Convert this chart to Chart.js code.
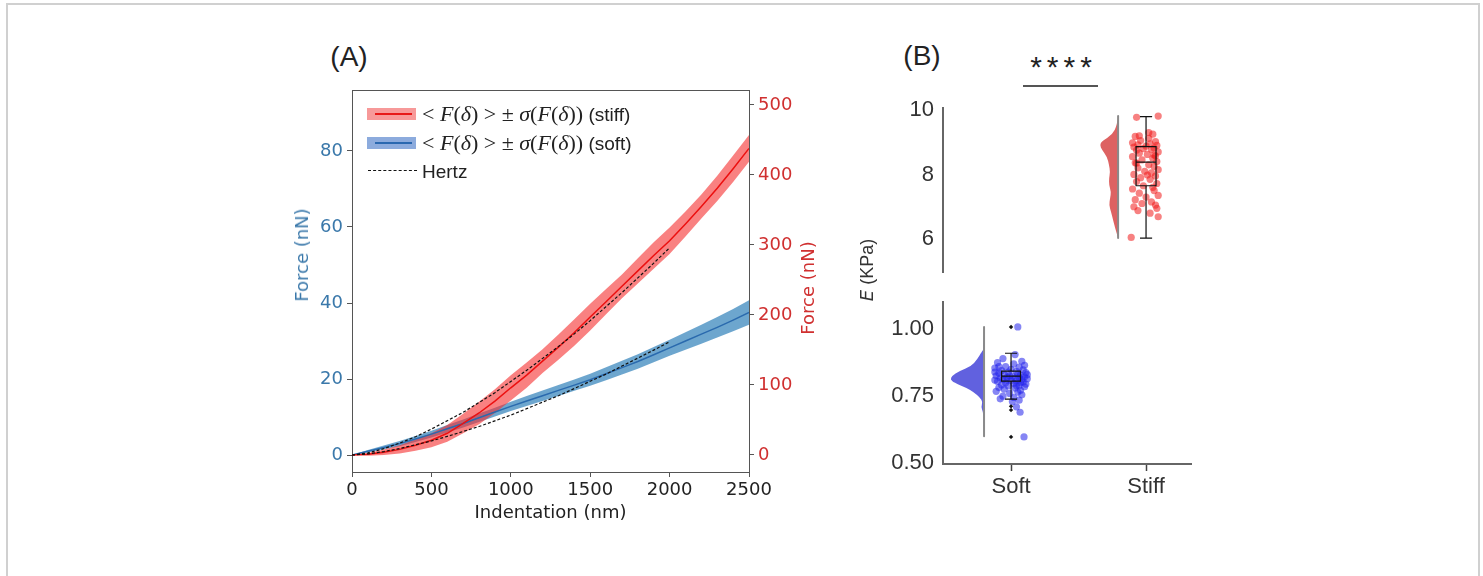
<!DOCTYPE html>
<html><head><meta charset="utf-8">
<script src="https://cdn.jsdelivr.net/npm/chart.js@4.4.0/dist/chart.umd.min.js"></script>
<style>
html,body{margin:0;padding:0;background:#fff;}
#page{position:relative;width:1483px;height:576px;overflow:hidden;font-family:"Liberation Sans",Arial,sans-serif;}
#frame{position:absolute;left:6px;top:3px;width:1474px;height:640px;border:2px solid #d0d0d0;box-sizing:border-box;}
canvas{position:absolute;}
.lbl{position:absolute;line-height:1;white-space:nowrap;color:#222;}
.c{transform:translate(-50%,-50%);}
.r{transform:translate(-50%,-50%) rotate(-90deg);}
.m{font-family:"Liberation Serif","Times New Roman",serif;}
.dv{font-family:"DejaVu Sans",sans-serif;font-size:18px;}
.patch{position:absolute;}
</style></head>
<body><div id="page">
<div id="frame"></div>
<canvas id="cA" width="560" height="450" style="left:270px;top:80px;"></canvas>
<canvas id="cB1" width="320" height="190" style="left:880px;top:95px;"></canvas>
<canvas id="cB2" width="320" height="230" style="left:880px;top:290px;"></canvas>

<div class="lbl c" style="left:349px;top:57px;font-size:28px;">(A)</div>
<div class="lbl c" style="left:922px;top:56px;font-size:28px;">(B)</div>

<!-- axis titles panel A -->
<div class="lbl r dv" style="left:302px;top:255px;color:#3a78aa;">Force (nN)</div>
<div class="lbl r dv" style="left:808px;top:288px;color:#d03030;">Force (nN)</div>

<!-- legend panel A -->
<div class="patch" style="left:367px;top:108px;width:49px;height:12px;background:rgba(240,70,70,0.55);"></div>
<div class="patch" style="left:375px;top:113px;width:37px;height:2px;background:#e81818;"></div>
<div class="lbl" style="left:422px;top:114px;transform:translateY(-50%);font-size:19px;"><span class="m" style="font-size:22px;">&lt; <i>F</i>(<i>δ</i>) &gt; ± <i>σ</i>(<i>F</i>(<i>δ</i>))</span> (stiff)</div>
<div class="patch" style="left:367px;top:137px;width:49px;height:12px;background:rgba(70,120,200,0.62);"></div>
<div class="patch" style="left:375px;top:142px;width:37px;height:2px;background:#2a68b0;"></div>
<div class="lbl" style="left:422px;top:143px;transform:translateY(-50%);font-size:19px;"><span class="m" style="font-size:22px;">&lt; <i>F</i>(<i>δ</i>) &gt; ± <i>σ</i>(<i>F</i>(<i>δ</i>))</span> (soft)</div>
<div class="patch" style="left:368px;top:170px;width:49px;height:0;border-top:1.5px dashed #111;"></div>
<div class="lbl" style="left:422px;top:171px;transform:translateY(-50%);font-size:19px;">Hertz</div>

<!-- panel B annotations -->
<div class="lbl c" style="left:1061px;top:67px;font-size:30px;letter-spacing:5px;padding-left:5px;color:#222;">****</div>
<div class="patch" style="left:1023px;top:85px;width:75px;height:2px;background:#555;"></div>
<div class="lbl r" style="left:867px;top:270px;font-size:18px;color:#333;"><i style="font-family:'DejaVu Sans';font-size:18px;">E</i> (KPa)</div>
</div>

<script>
// ---------- Panel A data ----------
const indentation = [0,100,200,300,400,500,600,700,800,900,1000,1100,1200,1300,1400,1500,1600,1700,1800,1900,2000,2100,2200,2300,2400,2500];
const stiffMean = [0,1,4,8,14,21,31,45,60,77,96,114,134,154,175,197,219,241,263,285,306,330,355,381,409,438];
const stiffSD   = [0,2,4,6,8,10,12,14,16,17,18,18,17,18,19,19,18,17,18,19,19,18,17,18,19,19];
const softMean  = [0,1.0,2.0,3.0,4.2,5.5,6.9,8.3,9.8,11.3,12.8,14.2,15.6,17.0,18.4,19.8,21.4,23.0,24.6,26.4,28.2,30.0,31.8,33.6,35.5,37.5];
const softSD    = [0,0.3,0.5,0.7,0.8,0.9,1.0,1.05,1.1,1.15,1.2,1.3,1.4,1.45,1.5,1.6,1.7,1.8,1.9,2.0,2.1,2.3,2.5,2.7,2.9,3.2];
const hertzX     = [0,100,200,300,400,500,600,700,800,900,1000,1100,1200,1300,1400,1500,1600,1700,1800,1900,2000];
const hertzStiff = [0,3,9,17,26,37,49,61,75,89,105,121,138,155,173,192,212,232,253,274,296];
const hertzSoft  = [0,0.3,0.9,1.7,2.7,3.7,4.9,6.2,7.5,9.0,10.5,12.2,13.9,15.6,17.5,19.4,21.3,23.4,25.5,27.6,29.8];
const xTicks = [0,500,1000,1500,2000,2500];
const softTicks = [0,20,40,60,80];
const stiffTicks = [0,100,200,300,400,500];

// ---------- Panel B data ----------
const groups = ['Soft','Stiff'];
const stiffE = [9.77,9.81,6.05,6.69,9.25,9.18,9.12,9.05,9.02,8.98,8.95,8.92,8.9,8.88,8.85,8.82,8.8,8.78,8.75,8.7,8.66,8.62,8.58,8.55,8.5,8.45,8.4,8.36,8.3,8.25,8.2,8.15,8.1,8.05,8.0,7.95,7.9,7.85,7.78,7.72,7.65,7.6,7.55,7.5,7.42,7.35,7.3,7.22,7.15,7.1,7.05,7.0,6.95,6.88,6.8,9.3,9.2,8.6,8.35,7.98];
const stiffJitter = [-0.07,0.09,-0.11,0.09,0.05,-0.08,0.02,-0.04,0.07,-0.1,0.03,-0.06,0.08,0.0,-0.09,0.06,-0.02,0.04,-0.07,0.09,-0.05,0.01,0.07,-0.1,0.05,-0.03,0.08,-0.08,0.02,0.06,-0.06,0.09,-0.01,0.04,-0.09,0.07,-0.04,0.03,-0.07,0.08,-0.02,0.05,-0.1,0.06,-0.05,0.09,0.0,-0.08,0.04,-0.03,0.07,-0.09,0.08,-0.06,0.03,0.02,-0.05,0.06,-0.07,0.01];
const softE = [1.008,0.69,0.598,0.71,0.905,0.89,0.88,0.875,0.87,0.865,0.86,0.858,0.855,0.85,0.848,0.845,0.842,0.84,0.838,0.835,0.832,0.83,0.828,0.826,0.824,0.822,0.82,0.82,0.818,0.816,0.815,0.813,0.812,0.81,0.808,0.806,0.805,0.803,0.8,0.798,0.795,0.792,0.79,0.788,0.785,0.782,0.78,0.776,0.772,0.768,0.765,0.76,0.755,0.75,0.745,0.74,0.735,0.73,0.84,0.83,0.81,0.8,0.86,0.79,0.825];
const softJitter = [0.05,0.067,0.096,0.04,0.03,-0.06,0.08,-0.1,0.02,0.1,-0.04,0.06,-0.12,0.0,0.09,-0.07,0.04,-0.02,0.11,-0.09,0.05,-0.05,0.07,-0.11,0.01,0.1,-0.03,0.06,-0.08,0.03,0.12,-0.06,0.08,-0.12,0.0,0.04,-0.1,0.09,-0.04,0.02,0.11,-0.07,0.06,-0.02,0.1,-0.09,0.03,-0.05,0.07,-0.11,0.05,-0.01,0.08,-0.06,0.02,-0.08,0.06,0.01,-0.12,0.12,-0.03,0.07,-0.09,0.04,-0.01];
const softOutliers = [1.008,0.712,0.698,0.598];
// box stats: [lower whisker, q1, median, q3, upper whisker]
const softBox  = [0.739,0.806,0.825,0.843,0.91];
const stiffBox = [6.03,7.65,8.38,8.86,9.79];
// half violin (kde): E levels and half-widths in group units
const stiffViolinE = [9.81,9.53,9.22,9.04,8.91,8.76,8.54,8.29,8.08,7.89,7.67,7.46,7.27,7.05,6.84,6.59,6.34,6.03];
const stiffViolinW = [0,0.007,0.044,0.119,0.136,0.119,0.081,0.067,0.059,0.067,0.067,0.052,0.059,0.067,0.052,0.037,0.022,0];
const softViolinE = [1.008,0.923,0.917,0.886,0.861,0.843,0.825,0.8125,0.80,0.782,0.764,0.745,0.728,0.71,0.691,0.665,0.6];
const softViolinW = [0,0.004,0.015,0.052,0.096,0.185,0.237,0.25,0.222,0.133,0.074,0.03,0.01,0.022,0.007,0.004,0];
const bTopTicks = [6,8,10];
const bBotTicks = [0.5,0.75,1.0];

// ---------- helpers ----------
const pts = (xs, ys) => xs.map((x,i)=>({x:x, y:ys[i]}));
const addArr = (a,b,s) => a.map((v,i)=>v + s*b[i]);
const fixTicks = arr => (s => { s.ticks = arr.map(v=>({value:v})); });
const fitW = w => (s => { s.width = w; s.paddingTop = 0; s.paddingBottom = 0; s.paddingLeft = 0; s.paddingRight = 0; });
const fitH = h => (s => { s.height = h; s.paddingTop = 0; s.paddingBottom = 0; s.paddingLeft = 0; s.paddingRight = 0; });

const topSpine = {id:'topSpine', afterDraw(chart){
  const {ctx, chartArea:a} = chart;
  ctx.save(); ctx.strokeStyle='#555'; ctx.lineWidth=1;
  ctx.beginPath(); ctx.moveTo(a.left, a.top+0.5); ctx.lineTo(a.right, a.top+0.5); ctx.stroke();
  ctx.restore();
}};

const RED='#ec1010', BLUE='#2a6aae';
const tickFontA = {family:'DejaVu Sans', size:18};

new Chart(document.getElementById('cA'), {
  type:'line',
  data:{datasets:[
    {data:pts(hertzX,hertzStiff), yAxisID:'yR', borderColor:'#111', borderWidth:1.2, borderDash:[3,2], pointRadius:0, fill:false},
    {data:pts(hertzX,hertzSoft), yAxisID:'yL', borderColor:'#111', borderWidth:1.2, borderDash:[3,2], pointRadius:0, fill:false},
    {data:pts(indentation,stiffMean), yAxisID:'yR', borderColor:RED, borderWidth:1.5, pointRadius:0, fill:false},
    {data:pts(indentation,softMean), yAxisID:'yL', borderColor:BLUE, borderWidth:1.5, pointRadius:0, fill:false},
    {data:pts(indentation,addArr(stiffMean,stiffSD,1)), yAxisID:'yR', borderWidth:0, pointRadius:0, backgroundColor:'rgba(245,45,45,0.6)', fill:'+1'},
    {data:pts(indentation,addArr(stiffMean,stiffSD,-1)), yAxisID:'yR', borderWidth:0, pointRadius:0, fill:false},
    {data:pts(indentation,addArr(softMean,softSD,1)), yAxisID:'yL', borderWidth:0, pointRadius:0, backgroundColor:'rgba(31,119,180,0.65)', fill:'+1'},
    {data:pts(indentation,addArr(softMean,softSD,-1)), yAxisID:'yL', borderWidth:0, pointRadius:0, fill:false}
  ]},
  options:{
    responsive:false, animation:false, events:[],
    layout:{padding:{top:10,left:0,right:0,bottom:0}},
    plugins:{legend:{display:false}, tooltip:{enabled:false}},
    scales:{
      x:{type:'linear', position:'bottom', min:0, max:2500,
        afterFit:fitH(58), afterBuildTicks:fixTicks(xTicks),
        ticks:{autoSkip:false, maxRotation:0, padding:3, color:'#222', font:tickFontA, callback:v=>String(v)},
        grid:{drawOnChartArea:false, drawTicks:true, tickLength:5, tickColor:'#555'},
        border:{display:true, color:'#555', width:1},
        title:{display:true, text:'Indentation (nm)', color:'#222', font:tickFontA, padding:{top:0,bottom:6}}},
      yL:{type:'linear', position:'left', min:-4.47, max:96.05,
        afterFit:fitW(82), afterBuildTicks:fixTicks(softTicks),
        ticks:{autoSkip:false, padding:4, color:'#3a78aa', font:tickFontA, callback:v=>String(v)},
        grid:{drawOnChartArea:false, drawTicks:true, tickLength:5, tickColor:'#555'},
        border:{display:true, color:'#555', width:1}},
      yR:{type:'linear', position:'right', min:-24.3, max:521.4,
        afterFit:fitW(81), afterBuildTicks:fixTicks(stiffTicks),
        ticks:{autoSkip:false, padding:4, color:'#d03030', font:tickFontA, callback:v=>String(v)},
        grid:{drawOnChartArea:false, drawTicks:true, tickLength:5, tickColor:'#555'},
        border:{display:true, color:'#555', width:1}}
    }
  },
  plugins:[topSpine]
});

// ---------- raincloud plugin (half violin + box) ----------
const raincloud = {id:'raincloud',
  beforeDatasetsDraw(chart){
    const o = chart.options.plugins.raincloud; if(!o) return;
    const {ctx, scales:{x,y}} = chart;
    const xe = x.getPixelForValue(o.pos + o.edge);
    const P = o.E.map((e,i)=>({x:x.getPixelForValue(o.pos + o.edge - o.W[i]), y:y.getPixelForValue(e)}));
    ctx.save();
    ctx.beginPath();
    ctx.moveTo(xe, P[0].y);
    ctx.lineTo(P[0].x, P[0].y);
    for(let i=1;i<P.length-1;i++){
      const mx=(P[i].x+P[i+1].x)/2, my=(P[i].y+P[i+1].y)/2;
      ctx.quadraticCurveTo(P[i].x,P[i].y,mx,my);
    }
    ctx.lineTo(P[P.length-1].x, P[P.length-1].y);
    ctx.lineTo(xe, P[P.length-1].y);
    ctx.closePath();
    ctx.fillStyle = o.fill; ctx.fill();
    ctx.strokeStyle = '#8a8a8a'; ctx.lineWidth = 2; ctx.lineCap='round';
    ctx.beginPath(); ctx.moveTo(xe, P[0].y); ctx.lineTo(xe, P[P.length-1].y); ctx.stroke();
    ctx.restore();
  },
  afterDatasetsDraw(chart){
    const o = chart.options.plugins.raincloud; if(!o) return;
    const {ctx, scales:{x,y}} = chart;
    const [lo,q1,med,q3,hi] = o.box;
    const xc = x.getPixelForValue(o.pos), xl = x.getPixelForValue(o.pos-o.bw), xr = x.getPixelForValue(o.pos+o.bw);
    const cl = x.getPixelForValue(o.pos-o.cw), cr = x.getPixelForValue(o.pos+o.cw);
    ctx.save(); ctx.strokeStyle='#111'; ctx.lineWidth=1.2;
    ctx.beginPath();
    ctx.rect(xl, y.getPixelForValue(q3), xr-xl, y.getPixelForValue(q1)-y.getPixelForValue(q3));
    ctx.moveTo(xl, y.getPixelForValue(med)); ctx.lineTo(xr, y.getPixelForValue(med));
    ctx.moveTo(xc, y.getPixelForValue(q3)); ctx.lineTo(xc, y.getPixelForValue(hi));
    ctx.moveTo(xc, y.getPixelForValue(q1)); ctx.lineTo(xc, y.getPixelForValue(lo));
    ctx.moveTo(cl, y.getPixelForValue(hi)); ctx.lineTo(cr, y.getPixelForValue(hi));
    ctx.moveTo(cl, y.getPixelForValue(lo)); ctx.lineTo(cr, y.getPixelForValue(lo));
    ctx.stroke(); ctx.restore();
  }
};

const tickFontB = {family:'Liberation Sans', size:22};
const xRange = {min:-0.504, max:1.333};

new Chart(document.getElementById('cB1'), {
  type:'scatter',
  data:{datasets:[
    {data:stiffJitter.map((j,i)=>({x:1+j, y:stiffE[i]})), pointRadius:3.6, backgroundColor:'rgba(240,25,25,0.55)', borderWidth:0}
  ]},
  options:{
    responsive:false, animation:false, events:[],
    layout:{padding:{top:13,left:0,right:9,bottom:13}},
    plugins:{legend:{display:false}, tooltip:{enabled:false},
      raincloud:{pos:1, edge:-0.207, E:stiffViolinE, W:stiffViolinW, fill:'rgba(215,70,70,0.85)', box:stiffBox, bw:0.074, cw:0.045}},
    scales:{
      x:{type:'linear', display:false, min:xRange.min, max:xRange.max},
      y:{type:'linear', min:4.977, max:10.06,
        afterFit:fitW(63), afterBuildTicks:fixTicks(bTopTicks),
        ticks:{autoSkip:false, padding:9, color:'#333', font:tickFontB, callback:v=>String(v)},
        grid:{drawOnChartArea:false, drawTicks:false},
        border:{display:true, color:'#666', width:2}}
    }
  },
  plugins:[raincloud]
});

new Chart(document.getElementById('cB2'), {
  type:'scatter',
  data:{datasets:[
    {data:softOutliers.map(v=>({x:0, y:v})), pointStyle:'rectRot', pointRadius:2.2, backgroundColor:'#111', borderWidth:0},
    {data:softJitter.map((j,i)=>({x:j, y:softE[i]})), pointRadius:3.6, backgroundColor:'rgba(35,35,235,0.55)', borderWidth:0}
  ]},
  options:{
    responsive:false, animation:false, events:[],
    layout:{padding:{top:12,left:0,right:9,bottom:0}},
    plugins:{legend:{display:false}, tooltip:{enabled:false},
      raincloud:{pos:0, edge:-0.2, E:softViolinE, W:softViolinW, fill:'rgba(80,80,220,0.9)', box:softBox, bw:0.07, cw:0.045}},
    scales:{
      x:{type:'linear', min:xRange.min, max:xRange.max,
        afterFit:fitH(56), afterBuildTicks:fixTicks([0,1]),
        ticks:{autoSkip:false, maxRotation:0, padding:3, color:'#333', font:tickFontB, callback:v=>groups[v]},
        grid:{drawOnChartArea:false, drawTicks:true, tickLength:7, tickColor:'#444', tickWidth:1.5},
        border:{display:true, color:'#666', width:2}},
      y:{type:'linear', min:0.497, max:1.101,
        afterFit:fitW(63), afterBuildTicks:fixTicks(bBotTicks),
        ticks:{autoSkip:false, padding:9, color:'#333', font:tickFontB, callback:v=>v.toFixed(2)},
        grid:{drawOnChartArea:false, drawTicks:false},
        border:{display:true, color:'#666', width:2}}
    }
  },
  plugins:[raincloud]
});
</script>
</body></html>
